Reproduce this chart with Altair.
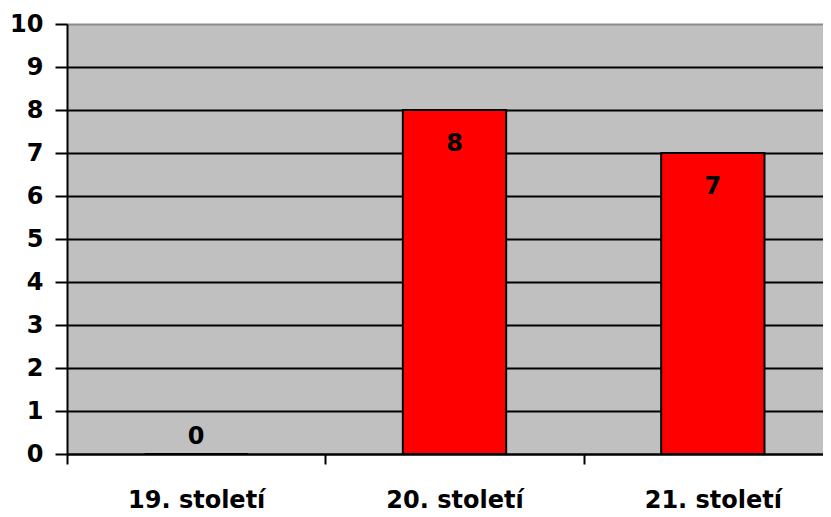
import altair as alt
import pandas as pd

categories = ["19. století", "20. století", "21. století"]
values = [0, 8, 7]

df = pd.DataFrame({"cat": categories, "val": values})

FONT = "DejaVu Sans"
FS = 24

x = alt.X("cat:N", sort=categories, title=None,
          scale=alt.Scale(paddingInner=0, paddingOuter=0, range=[0, 775]),
          axis=alt.Axis(labelAngle=0, labelFont=FONT, labelFontWeight="bold",
                        labelFontSize=FS, labelColor="black", labelPadding=24,
                        tickBand="extent", tickSize=10, tickWidth=2, tickColor="black",
                        domainColor="black", domainWidth=2, grid=False))
y = alt.Y("val:Q", title=None,
          scale=alt.Scale(domain=[0, 10], nice=False),
          axis=alt.Axis(values=list(range(11)), labelFont=FONT, labelFontWeight="bold",
                        labelFontSize=FS, labelColor="black", labelPadding=12,
                        tickSize=12, tickWidth=2, tickColor="black",
                        domainColor="black", domainWidth=2,
                        grid=True, gridWidth=2,
                        gridColor={"condition": {"test": "datum.value == 10", "value": "#8c8c8c"}, "value": "black"}))

base = alt.Chart(df)
bars = base.mark_bar(color="#FF0000", stroke="black", strokeWidth=2,
                     width={"band": 0.4}).encode(x=x, y=y)
labels_in = base.transform_filter("datum.val > 0").mark_text(
    font=FONT, fontWeight="bold", fontSize=FS, color="black", baseline="middle", dy=34
).encode(x=alt.X("cat:N", sort=categories), y="val:Q", text="val:Q")
labels_zero = base.transform_filter("datum.val == 0").mark_text(
    font=FONT, fontWeight="bold", fontSize=FS, color="black", baseline="middle", dy=-17
).encode(x=alt.X("cat:N", sort=categories), y="val:Q", text="val:Q")

chart = alt.layer(bars, labels_in, labels_zero).properties(
    width=756, height=430,
    autosize=alt.AutoSizeParams(type="none"),
    padding={"left": 59, "top": 16, "right": 0, "bottom": 62},
    background="white",
).configure_view(fill="#C0C0C0", stroke="#8c8c8c", strokeWidth=1)

chart.save("out.html", embed_options={"renderer": "svg", "actions": False})
